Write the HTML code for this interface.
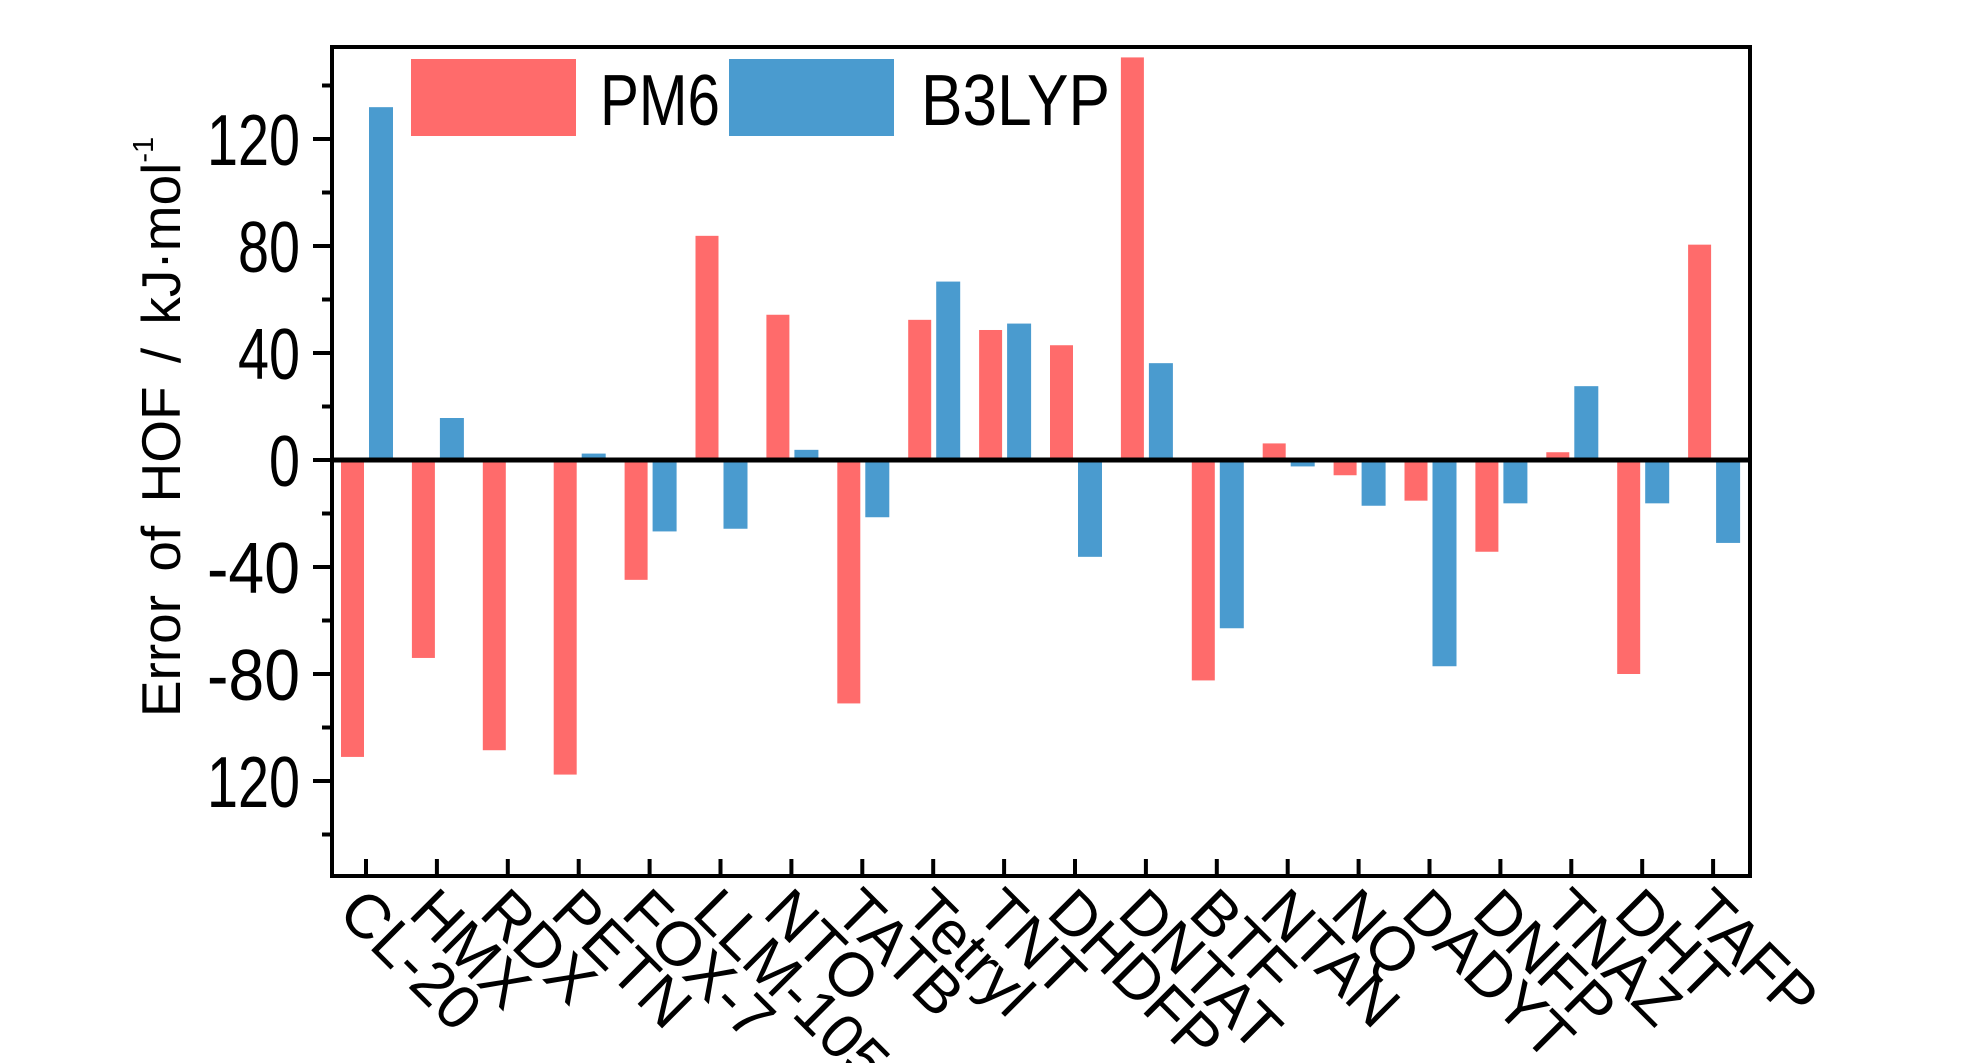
<!DOCTYPE html>
<html><head><meta charset="utf-8"><style>
html,body{margin:0;padding:0;background:#fff;}
svg{display:block;font-family:"Liberation Sans",sans-serif;}
</style></head><body>
<svg id="chart" width="1984" height="1063" viewBox="0 0 1984 1063" xmlns="http://www.w3.org/2000/svg">
<g id="bars"></g>
<g id="axes"></g>
<g>
<rect x="411" y="59" width="165" height="77" fill="#FF6B6B"/>
<text x="600" y="125" font-size="72" textLength="120" lengthAdjust="spacingAndGlyphs">PM6</text>
<rect x="729" y="59" width="165" height="77" fill="#4A9BCF"/>
<text x="921" y="125" font-size="72" textLength="189" lengthAdjust="spacingAndGlyphs">B3LYP</text>
</g>
<text transform="translate(180,427) rotate(-90)" text-anchor="middle" font-size="55" word-spacing="8">Error of HOF / kJ·mol<tspan font-size="29" dy="-27">-1</tspan></text>
</svg>
<script>
const categories = ["CL-20","HMX","RDX","PETN","FOX-7","LLM-105","NTO","TATB","Tetryl","TNT","DHDFP","DNTAT","BTF","NTAN","NQ","DADYT","DNFP","TNAZ","DHT","TAFP"];
const pm6 = [-111,-74,-108.5,-117.6,-44.8,83.8,54.3,-91,52.4,48.6,42.9,150.5,-82.4,6.2,-5.7,-15.2,-34.3,2.9,-80,80.5];
const b3lyp = [131.9,15.7,0,2.4,-26.7,-25.7,3.8,-21.4,66.7,51,-36.2,36.2,-62.9,-2.4,-17.1,-77.1,-16.2,27.6,-16.2,-31];
const yTickValues = [-120,-80,-40,0,40,80,120];
const yTickLabels = ["120","-80","-40","0","40","80","120"];
const yMinorValues = [-140,-100,-60,-20,20,60,100,140];

const NS="http://www.w3.org/2000/svg";
const L=332,R=1750,T=47,B=876,Y0=460,PPU=2.675;
function y(v){return Y0 - v*PPU;}
function xc(i){return 366 + i*70.9;}
function mk(tag,attrs,parent){const e=document.createElementNS(NS,tag);for(const k in attrs)e.setAttribute(k,attrs[k]);parent.appendChild(e);return e;}
const bars=document.getElementById('bars'), axes=document.getElementById('axes');

categories.forEach((c,i)=>{
  const cx=xc(i);
  let v=pm6[i];
  let r=mk('rect',{x:cx-25,y:Math.min(y(v),Y0),width:23,height:Math.abs(y(v)-Y0),fill:'#FF6B6B'},bars);
  
  
  v=b3lyp[i];
  r=mk('rect',{x:cx+3,y:Math.min(y(v),Y0),width:24,height:Math.abs(y(v)-Y0),fill:'#4A9BCF'},bars);
  
  
  let t=mk('line',{x1:cx,x2:cx,y1:B,y2:B-17,stroke:'#000','stroke-width':4},axes);
  
  
  let lab=mk('text',{transform:`translate(${cx-30},915) rotate(45)`,'font-size':62},axes);
  
  
  lab.textContent=c;
});

let frame=mk('rect',{x:L,y:T,width:R-L,height:B-T,fill:'none',stroke:'#000','stroke-width':4},axes);


let zl=mk('line',{x1:L,x2:R,y1:Y0,y2:Y0,stroke:'#000','stroke-width':5},axes);



yTickValues.forEach((v,i)=>{
  let t=mk('line',{x1:L-19,x2:L,y1:y(v),y2:y(v),stroke:'#000','stroke-width':4},axes);
  
  
  let s=yTickLabels[i];
  let tx=mk('text',{x:300,y:y(v)+26,'font-size':72,'text-anchor':'end',textLength:31*s.length,lengthAdjust:'spacingAndGlyphs'},axes);
  
  
  tx.textContent=s;
});
yMinorValues.forEach(v=>{
  let t=mk('line',{x1:L-10,x2:L,y1:y(v),y2:y(v),stroke:'#000','stroke-width':4},axes);
  
  
});
</script>
</body></html>
